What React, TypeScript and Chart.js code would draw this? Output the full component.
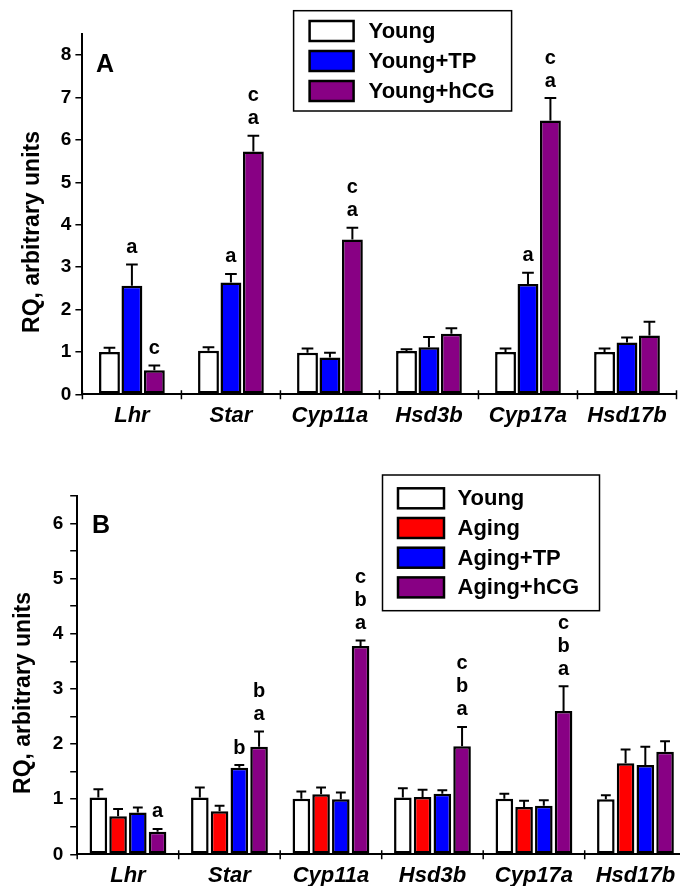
import React, { useEffect, useRef } from 'react';
import { Chart, registerables } from 'chart.js';

Chart.register(...registerables);

const FONT = '"Liberation Sans", Arial, Helvetica, sans-serif';

// ---------- data ----------
const categories = ['Lhr', 'Star', 'Cyp11a', 'Hsd3b', 'Cyp17a', 'Hsd17b'];

// Panel A
const youngA = [1.0, 1.03, 0.98, 1.02, 1.0, 1.0];
const youngAErr = [0.1, 0.08, 0.1, 0.04, 0.08, 0.08];
const youngTP = [2.56, 2.64, 0.87, 1.11, 2.6, 1.22];
const youngTPErr = [0.5, 0.2, 0.11, 0.24, 0.27, 0.12];
const youngHCG = [0.57, 5.73, 3.65, 1.43, 6.46, 1.39];
const youngHCGErr = [0.11, 0.37, 0.28, 0.13, 0.53, 0.32];
const lettersA_TP = [['a'], ['a'], [], [], ['a'], []];
const lettersA_HCG = [['c'], ['c', 'a'], ['c', 'a'], [], ['c', 'a'], []];

// Panel B
const youngB = [1.03, 1.03, 1.01, 1.03, 1.01, 1.0];
const youngBErr = [0.15, 0.18, 0.13, 0.17, 0.09, 0.07];
const aging = [0.69, 0.78, 1.09, 1.04, 0.86, 1.65];
const agingErr = [0.13, 0.1, 0.12, 0.13, 0.11, 0.25];
const agingTP = [0.76, 1.57, 1.0, 1.1, 0.88, 1.62];
const agingTPErr = [0.09, 0.05, 0.12, 0.06, 0.1, 0.33];
const agingHCG = [0.41, 1.95, 3.78, 1.96, 2.6, 1.86];
const agingHCGErr = [0.05, 0.28, 0.1, 0.35, 0.45, 0.19];
const lettersB_TP = [[], ['b'], [], [], [], []];
const lettersB_HCG = [['a'], ['b', 'a'], ['c', 'b', 'a'], ['c', 'b', 'a'], ['c', 'b', 'a'], []];

const noLetters = [[], [], [], [], [], []];

const WHITE = '#FFFFFF';
const BLUE = '#0000FF';
const RED = '#FF0000';
const PURPLE = '#880084';

type Series = { label: string; color: string; values: number[]; errors: number[]; letters: string[][] };

type Spec = {
  series: Series[];
  yMax: number;
  canvasW: number;
  canvasH: number;
  area: { left: number; right: number; top: number; bottom: number };
  catPct: number;
  barPct: number;
  yTickPad: number;
  panel: string;
  panelPos: { x: number; y: number };
  titlePos: { x: number; y: number };
  legend: { x: number; y: number; w: number; h: number; swX: number; swW: number; swH: number; textX: number; firstTop: number; step: number };
};

const specA: Spec = {
  series: [
    { label: 'Young', color: WHITE, values: youngA, errors: youngAErr, letters: noLetters },
    { label: 'Young+TP', color: BLUE, values: youngTP, errors: youngTPErr, letters: lettersA_TP },
    { label: 'Young+hCG', color: PURPLE, values: youngHCG, errors: youngHCGErr, letters: lettersA_HCG },
  ],
  yMax: 8.5,
  canvasW: 680,
  canvasH: 440,
  area: { left: 82.4, right: 676.5, top: 34, bottom: 394.3 },
  catPct: 0.68,
  barPct: 0.93,
  yTickPad: 4,
  panel: 'A',
  panelPos: { x: 96, y: 65 },
  titlePos: { x: 33, y: 232 },
  legend: { x: 293.6, y: 10.7, w: 218, h: 100.3, swX: 309.6, swW: 44, swH: 20, textX: 368.6, firstTop: 21, step: 30 },
};

const specB: Spec = {
  series: [
    { label: 'Young', color: WHITE, values: youngB, errors: youngBErr, letters: noLetters },
    { label: 'Aging', color: RED, values: aging, errors: agingErr, letters: noLetters },
    { label: 'Aging+TP', color: BLUE, values: agingTP, errors: agingTPErr, letters: lettersB_TP },
    { label: 'Aging+hCG', color: PURPLE, values: agingHCG, errors: agingHCGErr, letters: lettersB_HCG },
  ],
  yMax: 6.5,
  canvasW: 700,
  canvasH: 446,
  area: { left: 77.2, right: 686.2, top: 56, bottom: 414.3 },
  catPct: 0.778,
  barPct: 0.89,
  yTickPad: 7,
  panel: 'B',
  panelPos: { x: 92, y: 86 },
  titlePos: { x: 24, y: 253 },
  legend: { x: 382.5, y: 35, w: 217, h: 135.7, swX: 398, swW: 46, swH: 20, textX: 457.5, firstTop: 48.3, step: 29.7 },
};

function makePlugin(spec: Spec) {
  return {
    id: 'decor' + spec.panel,
    afterDatasetsDraw(chart: any) {
      const ctx = chart.ctx;
      const ys = chart.scales.y;
      const xs = chart.scales.x;
      ctx.save();
      chart.data.datasets.forEach((ds: any, i: number) => {
        const meta = chart.getDatasetMeta(i);
        const s = spec.series[i];
        meta.data.forEach((bar: any, j: number) => {
          const v = s.values[j];
          const e = s.errors[j];
          const bt = ys.getPixelForValue(v);
          const top = ys.getPixelForValue(v + e);
          const hw = bar.width * 0.28;
          ctx.strokeStyle = '#000';
          ctx.lineWidth = 2;
          ctx.beginPath();
          ctx.moveTo(bar.x, bt);
          ctx.lineTo(bar.x, top);
          ctx.moveTo(bar.x - hw, top);
          ctx.lineTo(bar.x + hw, top);
          ctx.stroke();
          const L = s.letters[j];
          ctx.font = `bold 20px ${FONT}`;
          ctx.fillStyle = '#000';
          ctx.textAlign = 'center';
          ctx.textBaseline = 'middle';
          for (let k = 0; k < L.length; k++) {
            ctx.fillText(L[L.length - 1 - k], bar.x, top - 17 - k * 23);
          }
        });
      });
      // category boundary ticks on x axis
      const n = chart.data.labels.length;
      const step = xs.getPixelForValue(1) - xs.getPixelForValue(0);
      const base = chart.chartArea.bottom;
      ctx.strokeStyle = '#000';
      ctx.lineWidth = 1.5;
      ctx.beginPath();
      for (let k = 0; k <= n; k++) {
        const px = xs.getPixelForValue(0) - step / 2 + k * step;
        ctx.moveTo(px, base - 4);
        ctx.lineTo(px, base + 5);
      }
      ctx.stroke();
      ctx.restore();
    },
    afterDraw(chart: any) {
      const ctx = chart.ctx;
      ctx.save();
      // y title
      ctx.translate(spec.titlePos.x, spec.titlePos.y);
      ctx.rotate(-Math.PI / 2);
      ctx.font = `bold 23px ${FONT}`;
      ctx.fillStyle = '#000';
      ctx.textAlign = 'center';
      ctx.textBaseline = 'middle';
      ctx.fillText('RQ, arbitrary units', 0, 0);
      ctx.restore();

      ctx.save();
      // panel letter
      ctx.font = `bold 25px ${FONT}`;
      ctx.fillStyle = '#000';
      ctx.textAlign = 'left';
      ctx.textBaseline = 'middle';
      ctx.fillText(spec.panel, spec.panelPos.x, spec.panelPos.y);

      // legend
      const lg = spec.legend;
      ctx.fillStyle = '#fff';
      ctx.fillRect(lg.x, lg.y, lg.w, lg.h);
      ctx.strokeStyle = '#000';
      ctx.lineWidth = 1.5;
      ctx.strokeRect(lg.x, lg.y, lg.w, lg.h);
      chart.data.datasets.forEach((ds: any, i: number) => {
        const top = lg.firstTop + i * lg.step;
        ctx.fillStyle = ds.backgroundColor;
        ctx.fillRect(lg.swX, top, lg.swW, lg.swH);
        ctx.lineWidth = 2.5;
        ctx.strokeStyle = '#000';
        ctx.strokeRect(lg.swX, top, lg.swW, lg.swH);
        ctx.fillStyle = '#000';
        ctx.font = `bold 22px ${FONT}`;
        ctx.textAlign = 'left';
        ctx.textBaseline = 'middle';
        ctx.fillText(ds.label, lg.textX, top + lg.swH / 2 + 1);
      });
      ctx.restore();
    },
  };
}

function Panel({ spec, top }: { spec: Spec; top: number }) {
  const ref = useRef<HTMLCanvasElement | null>(null);
  useEffect(() => {
    if (!ref.current) return;
    const a = spec.area;
    const chart = new Chart(ref.current, {
      type: 'bar',
      data: {
        labels: categories,
        datasets: spec.series.map((s) => ({
          label: s.label,
          data: s.values,
          backgroundColor: s.color,
          borderColor: '#000',
          borderWidth: 2.5,
          borderSkipped: false,
          categoryPercentage: spec.catPct,
          barPercentage: spec.barPct,
        })),
      },
      options: {
        responsive: false,
        maintainAspectRatio: false,
        animation: false,
        layout: { padding: { left: 0, top: a.top, right: spec.canvasW - a.right, bottom: 0 } },
        plugins: { legend: { display: false }, tooltip: { enabled: false } },
        scales: {
          x: {
            grid: { display: false, drawTicks: false },
            border: { display: true, color: '#000', width: 2 },
            ticks: {
              color: '#000',
              padding: 8,
              autoSkip: false,
              maxRotation: 0,
              font: { family: FONT, size: 22, weight: 'bold', style: 'italic' },
            },
            afterFit: (scale: any) => {
              scale.height = spec.canvasH - a.bottom;
            },
          },
          y: {
            min: 0,
            max: spec.yMax,
            ticks: {
              stepSize: 0.5,
              color: '#000',
              padding: spec.yTickPad,
              font: { family: FONT, size: 19, weight: 'bold' },
              callback: (v: any) => (Math.abs(v - Math.round(v)) < 1e-6 ? String(Math.round(v)) : ''),
            },
            grid: { drawOnChartArea: false, drawTicks: true, tickLength: 7, color: '#000', lineWidth: 1.5 },
            border: { display: true, color: '#000', width: 2 },
            afterFit: (scale: any) => {
              scale.width = a.left;
            },
          },
        },
      },
      plugins: [makePlugin(spec)],
    } as any);
    return () => chart.destroy();
  }, [spec]);
  return (
    <canvas
      ref={ref}
      width={spec.canvasW}
      height={spec.canvasH}
      style={{ position: 'absolute', left: 0, top, display: 'block' }}
    />
  );
}

export default function App() {
  return (
    <div
      style={{
        position: 'fixed',
        left: 0,
        top: 0,
        width: 680,
        height: 886,
        overflow: 'hidden',
        background: '#fff',
      }}
    >
      <Panel spec={specA} top={0} />
      <Panel spec={specB} top={440} />
    </div>
  );
}
